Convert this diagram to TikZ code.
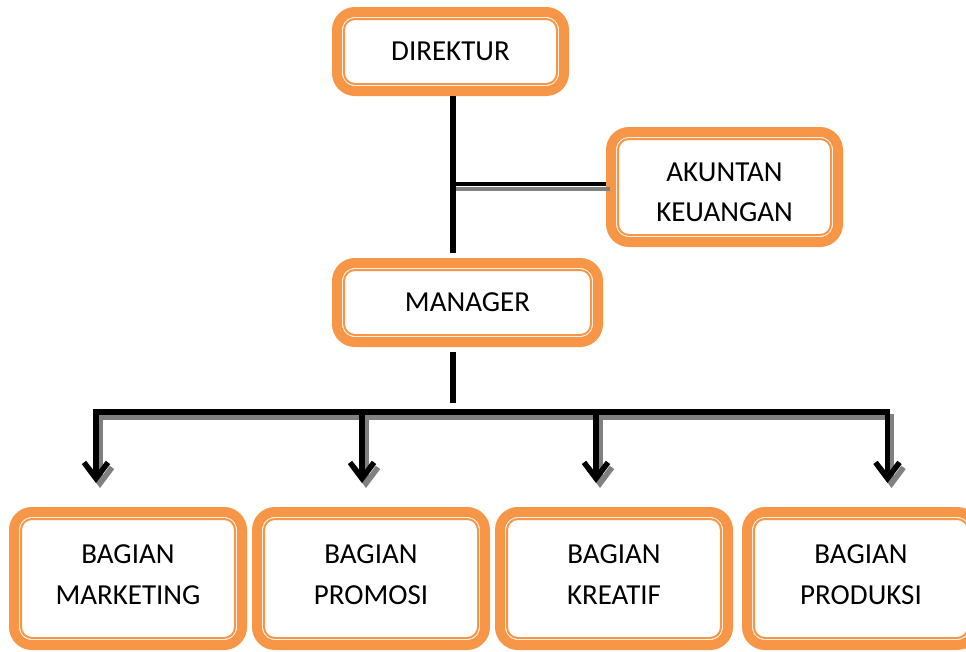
\documentclass[tikz,border=0pt]{standalone}
\usepackage{fontspec}
\setmainfont{Carlito}
\usetikzlibrary{arrows.meta,calc}
\definecolor{ornge}{HTML}{F79646}
\definecolor{shadgray}{HTML}{808080}
\begin{document}
\begin{tikzpicture}[x=1pt,y=-1pt,
  obox/.style={rectangle, rounded corners=18pt, draw=ornge, line width=10pt, fill=white,
    inner sep=0pt, align=center, text=black, font=\fontsize{29}{40.5}\selectfont,
    path picture={\draw[ornge,line width=2pt,rounded corners=11pt]
      ([xshift=7pt,yshift=-7pt]path picture bounding box.north west) rectangle
      ([xshift=-7pt,yshift=7pt]path picture bounding box.south east);}},
  lbl/.style={align=center, text=black, inner sep=0pt, font=\fontsize{29}{40.5}\selectfont},
  trunk/.style={line width=6pt, black},
  side/.style={line width=3.5pt, black},
  sideshad/.style={line width=4.5pt, shadgray},
  tree/.style={line width=5.5pt, line join=miter, >={Straight Barb[length=16pt, width=24pt]}}
]
\useasboundingbox (0,0) rectangle (966,651);
\clip (0,0) rectangle (966,651);

% boxes
\node[obox, minimum width=227pt, minimum height=79pt] (dir) at (450.5,51.5) {DIREKTUR};
\node[obox, minimum width=227pt, minimum height=110pt,
  label={[lbl, yshift=-5.5pt]center:AKUNTAN\\KEUANGAN}] (ak) at (724.5,187) {};
\node[obox, minimum width=261pt, minimum height=79pt] (man) at (467.5,302.5) {MANAGER};
\node[obox, minimum width=228pt, minimum height=133pt,
  label={[lbl, yshift=4pt]center:BAGIAN\\MARKETING}] (mk) at (128,578.5) {};
\node[obox, minimum width=228pt, minimum height=133pt,
  label={[lbl, yshift=4pt]center:BAGIAN\\PROMOSI}] (pr) at (371,578.5) {};
\node[obox, minimum width=228pt, minimum height=133pt,
  label={[lbl, yshift=4pt]center:BAGIAN\\KREATIF}] (kr) at (614,578.5) {};
\node[obox, minimum width=228pt, minimum height=133pt,
  label={[lbl, yshift=4pt]center:BAGIAN\\PRODUKSI}] (pd) at (861,578.5) {};

% coordinates
\coordinate (v) at (452.5,0);
\coordinate (j1) at (452.5,184);
\coordinate (m2) at (452.5,403);
\coordinate (bl) at (96,412);
\coordinate (t1) at (96,483);
\coordinate (t2) at (362,483);
\coordinate (t3) at (596,483);
\coordinate (t4) at (887.5,483);

% direktur -> manager
\draw[sideshad] ($(j1)+(3,5)$) -- ($(j1 -| ak.west)+(4,5)$);
\draw[side] (j1) -- (j1 -| ak.west);
\draw[trunk] (v |- dir.south) -- ($(v |- man.north)+(0,-5)$);
\draw[trunk] ($(v |- man.south)+(0,5)$) -- (m2);

% shadow of tree
\begin{scope}[transform canvas={shift={(4pt,-5pt)}}]
  \draw[tree, shadgray, <->] (t1) -- (t1 |- bl) -- (t4 |- bl) -- (t4);
  \draw[tree, shadgray, ->] (t2 |- bl) -- (t2);
  \draw[tree, shadgray, ->] (t3 |- bl) -- (t3);
\end{scope}
% tree
\draw[tree, <->] (t1) -- (t1 |- bl) -- (t4 |- bl) -- (t4);
\draw[tree, ->] (t2 |- bl) -- (t2);
\draw[tree, ->] (t3 |- bl) -- (t3);
\end{tikzpicture}
\end{document}
